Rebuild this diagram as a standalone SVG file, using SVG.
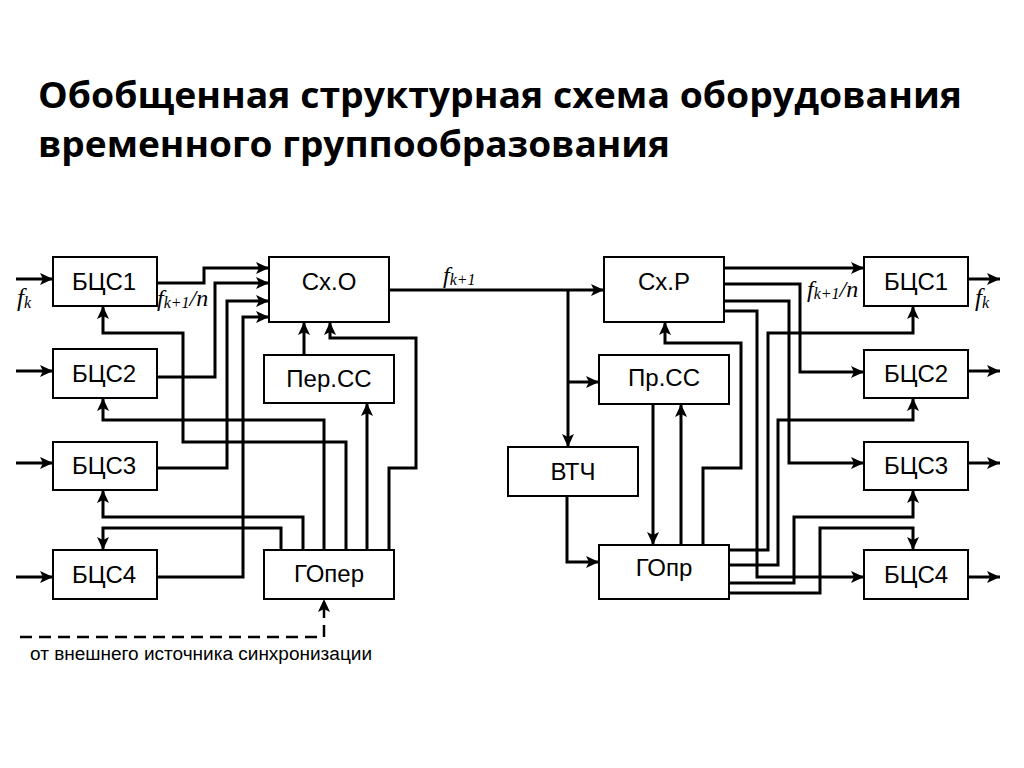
<svg xmlns="http://www.w3.org/2000/svg" width="1024" height="768" viewBox="0 0 1024 768">
<defs>
<style>
.box{fill:#fff;stroke:#000;stroke-width:2}
.lbl{font-family:"Liberation Sans",Arial,sans-serif;font-size:24px;text-anchor:middle;fill:#000}
.w{fill:none;stroke:#000;stroke-width:3;stroke-linejoin:miter}
.a{marker-end:url(#ah)}
.title{font-family:"Open Sans","Liberation Sans",sans-serif;font-weight:bold;font-size:36px;fill:#000}
.math{font-family:"Liberation Serif","Times New Roman",serif;font-style:italic;fill:#000}
</style>
<marker id="ah" markerUnits="userSpaceOnUse" markerWidth="14" markerHeight="12" refX="13" refY="6" orient="auto">
<path d="M0,0 L13,6 L0,12 L3,6 Z" fill="#000"/>
</marker>
</defs>
<rect width="1024" height="768" fill="#fff"/>
<text class="title" x="38" y="108" textLength="924" lengthAdjust="spacingAndGlyphs">Обобщенная структурная схема оборудования</text>
<text class="title" x="38" y="157" textLength="632" lengthAdjust="spacingAndGlyphs">временного группообразования</text>

<g id="connectors">
<path class="w a" d="M16,279 H53"/>
<path class="w a" d="M16,371 H53"/>
<path class="w a" d="M16,463 H53"/>
<path class="w a" d="M16,577 H53"/>
<path class="w a" d="M157,283 H204 V268 H269"/>
<path class="w a" d="M157,377 H215 V283 H269"/>
<path class="w a" d="M157,468 H227 V301 H269"/>
<path class="w a" d="M157,577 H243 V317 H269"/>
<path class="w a" d="M346,550 V442 H183 V333 H103 V306"/>
<path class="w a" d="M324,550 V420 H103 V398"/>
<path class="w a" d="M303,550 V517 H103 V490"/>
<path class="w a" d="M281,550 V528 H103 V550"/>
<path class="w a" d="M367,550 V403"/>
<path class="w a" d="M389,550 V468 H416 V338 H330 V322"/>
<path class="w a" d="M304,355 V322"/>
<path class="w a" d="M20,637 H324 V599" stroke-dasharray="12,7" style="stroke-width:2.5"/>
<path class="w a" d="M389,290 H604"/>
<path class="w a" d="M568,290 V447"/>
<path class="w a" d="M568,382 H599"/>
<path class="w a" d="M567,496 V562 H599"/>
<path class="w a" d="M653,404 V545"/>
<path class="w a" d="M681,545 V404"/>
<path class="w a" d="M703,545 V468 H741 V343 H665 V322"/>
<path class="w a" d="M724,268 H864"/>
<path class="w a" d="M724,284 H800 V372 H864"/>
<path class="w a" d="M724,301 H789 V463 H864"/>
<path class="w a" d="M724,311 H757 V577 H864"/>
<path class="w a" d="M729,550 H768 V333 H913 V306"/>
<path class="w a" d="M729,565 H778 V420 H913 V398"/>
<path class="w a" d="M729,583 H794 V517 H913 V490"/>
<path class="w a" d="M729,593 H820 V528 H913 V550"/>
<path class="w a" d="M968,279 H1000"/>
<path class="w a" d="M968,371 H1000"/>
<path class="w a" d="M968,463 H1000"/>
<path class="w a" d="M968,577 H1000"/>
</g>

<g id="bcs1-l"><rect class="box" x="53" y="257" width="104" height="49"/><text class="lbl" x="104" y="290">БЦС1</text></g>
<g id="bcs2-l"><rect class="box" x="53" y="349" width="104" height="49"/><text class="lbl" x="104" y="382">БЦС2</text></g>
<g id="bcs3-l"><rect class="box" x="53" y="442" width="104" height="48"/><text class="lbl" x="104" y="474">БЦС3</text></g>
<g id="bcs4-l"><rect class="box" x="53" y="550" width="104" height="49"/><text class="lbl" x="104" y="583">БЦС4</text></g>
<g id="sxo"><rect class="box" x="269" y="257" width="120" height="65"/><text class="lbl" x="329" y="290">Сх.О</text></g>
<g id="perss"><rect class="box" x="264" y="355" width="130" height="48"/><text class="lbl" x="329" y="387">Пер.СС</text></g>
<g id="goper"><rect class="box" x="264" y="550" width="130" height="49"/><text class="lbl" x="329" y="582">ГОпер</text></g>
<g id="sxr"><rect class="box" x="604" y="257" width="120" height="65"/><text class="lbl" x="664" y="290">Сх.Р</text></g>
<g id="prss"><rect class="box" x="599" y="355" width="130" height="49"/><text class="lbl" x="664" y="386">Пр.СС</text></g>
<g id="vtch"><rect class="box" x="508" y="447" width="130" height="49"/><text class="lbl" x="573" y="480">ВТЧ</text></g>
<g id="gopr"><rect class="box" x="599" y="545" width="130" height="54"/><text class="lbl" x="664" y="576">ГОпр</text></g>
<g id="bcs1-r"><rect class="box" x="864" y="257" width="104" height="49"/><text class="lbl" x="916" y="290">БЦС1</text></g>
<g id="bcs2-r"><rect class="box" x="864" y="350" width="104" height="48"/><text class="lbl" x="916" y="382">БЦС2</text></g>
<g id="bcs3-r"><rect class="box" x="864" y="442" width="104" height="48"/><text class="lbl" x="916" y="474">БЦС3</text></g>
<g id="bcs4-r"><rect class="box" x="864" y="550" width="104" height="49"/><text class="lbl" x="916" y="583">БЦС4</text></g>

<g id="labels">
<text class="math" x="17" y="306" font-size="25">f<tspan font-size="16" dy="2">k</tspan></text>
<text class="math" x="157" y="306" font-size="24">f<tspan font-size="16" dy="2">k+1</tspan><tspan font-size="24" dy="-2">/n</tspan></text>
<text class="math" x="443" y="283" font-size="24">f<tspan font-size="16" dy="2">k+1</tspan></text>
<text class="math" x="807" y="297" font-size="24">f<tspan font-size="16" dy="2">k+1</tspan><tspan font-size="24" dy="-2">/n</tspan></text>
<text class="math" x="975" y="306" font-size="25">f<tspan font-size="16" dy="2">k</tspan></text>
<text x="30" y="660" font-family="Liberation Sans,Arial,sans-serif" font-size="18" textLength="342" lengthAdjust="spacingAndGlyphs">от внешнего источника синхронизации</text>
</g>
</svg>
